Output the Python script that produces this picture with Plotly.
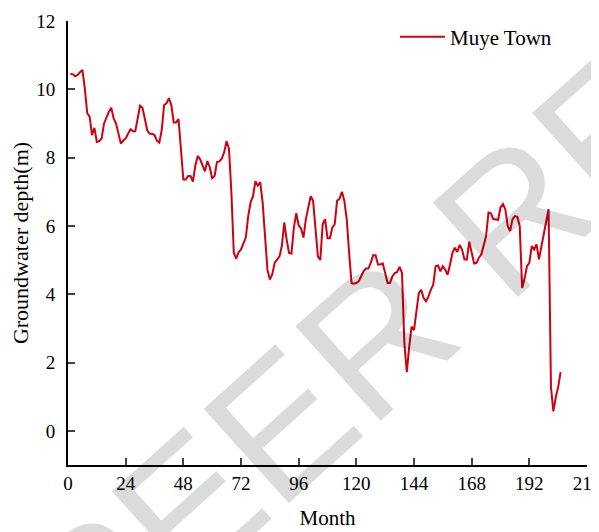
import plotly.graph_objects as go

months = list(range(1, 206))
depth = [
    10.45, 10.44, 10.38, 10.42, 10.50, 10.57, 10.03, 9.30, 9.20, 8.66,
    8.87, 8.46, 8.48, 8.56, 9.00, 9.20, 9.34, 9.46, 9.15, 9.00,
    8.70, 8.41, 8.50, 8.56, 8.70, 8.83, 8.77, 8.77, 9.15, 9.52,
    9.46, 9.10, 8.80, 8.70, 8.70, 8.66, 8.50, 8.44, 8.80, 9.54,
    9.59, 9.74, 9.54, 9.03, 9.03, 9.13, 8.26, 7.36, 7.36, 7.46,
    7.46, 7.30, 7.77, 8.05, 7.95, 7.77, 7.60, 7.90, 7.72, 7.40,
    7.46, 7.87, 7.89, 7.97, 8.16, 8.48, 8.26, 6.98, 5.21, 5.04,
    5.23, 5.31, 5.46, 5.66, 6.29, 6.69, 6.87, 7.31, 7.18, 7.28,
    6.69, 5.80, 4.72, 4.43, 4.58, 4.92, 5.02, 5.10, 5.41, 6.10,
    5.60, 5.21, 5.19, 5.95, 6.37, 6.02, 5.92, 5.66, 6.20, 6.59,
    6.87, 6.74, 5.80, 5.11, 5.00, 6.05, 6.20, 5.64, 5.64, 5.95,
    6.05, 6.74, 6.79, 7.00, 6.74, 6.20, 5.21, 4.33, 4.31, 4.33,
    4.38, 4.54, 4.67, 4.75, 4.75, 4.92, 5.14, 5.14, 4.87, 4.87,
    4.90, 4.62, 4.33, 4.33, 4.52, 4.62, 4.65, 4.80, 4.62, 2.56,
    1.72, 2.46, 3.05, 2.95, 3.54, 4.03, 4.13, 3.89, 3.79, 3.93,
    4.13, 4.28, 4.82, 4.84, 4.67, 4.82, 4.72, 4.57, 4.87, 5.21,
    5.36, 5.24, 5.44, 5.31, 5.02, 5.02, 5.54, 5.21, 4.90, 4.92,
    5.07, 5.16, 5.41, 5.70, 6.39, 6.37, 6.20, 6.20, 6.18, 6.54,
    6.64, 6.49, 6.00, 5.85, 6.20, 6.29, 6.27, 6.00, 4.18, 4.45,
    4.82, 4.92, 5.41, 5.31, 5.46, 5.02, 5.41, 5.70, 6.20, 6.49,
    1.28, 0.57, 0.98, 1.28, 1.72,
]
x_ticks = [0, 24, 48, 72, 96, 120, 144, 168, 192, 216]
y_ticks = [0, 2, 4, 6, 8, 10, 12]

FONT = "Liberation Serif"

fig = go.Figure()
fig.add_trace(go.Scatter(
    x=months, y=depth, mode="lines", name="Muye Town",
    line=dict(color="#d0000f", width=2),
))

fig.update_layout(
    width=599, height=524,
    margin=dict(l=60, r=20, t=9, b=67),
    paper_bgcolor="white", plot_bgcolor="rgba(0,0,0,0)",
    font=dict(family=FONT, size=19, color="black"),
    showlegend=True,
    legend=dict(x=0.63, y=1.01, xanchor="left", yanchor="top",
                bgcolor="rgba(0,0,0,0)", font=dict(family=FONT, size=21),
                itemwidth=45),
    xaxis=dict(range=[0, 216], tickvals=x_ticks, ticks="inside", ticklen=7,
               tickwidth=2, showline=True, linewidth=2, linecolor="black",
               showgrid=False, zeroline=False, ticklabelstandoff=0,
               automargin=False, ticklabeloverflow="allow",
               title=dict(text="Month", font=dict(size=21), standoff=18)),
    yaxis=dict(range=[-1, 12], tickvals=y_ticks, ticks="inside", ticklen=7,
               tickwidth=2, showline=True, linewidth=2, linecolor="black",
               showgrid=False, zeroline=False, ticklabelstandoff=7,
               automargin=False, ticklabeloverflow="allow",
               title=dict(text="Groundwater depth(m)", font=dict(size=22), standoff=20)),
    annotations=[dict(
        text="PEER REVIEW", xref="paper", yref="paper", x=0.888, y=0.595,
        xanchor="center", yanchor="middle", showarrow=False, textangle=-42,
        font=dict(family="Liberation Sans Narrow, Liberation Sans", size=185,
                  color="rgba(0,0,0,0.14)"),
    )],
)

fig.write_html("out.html")
